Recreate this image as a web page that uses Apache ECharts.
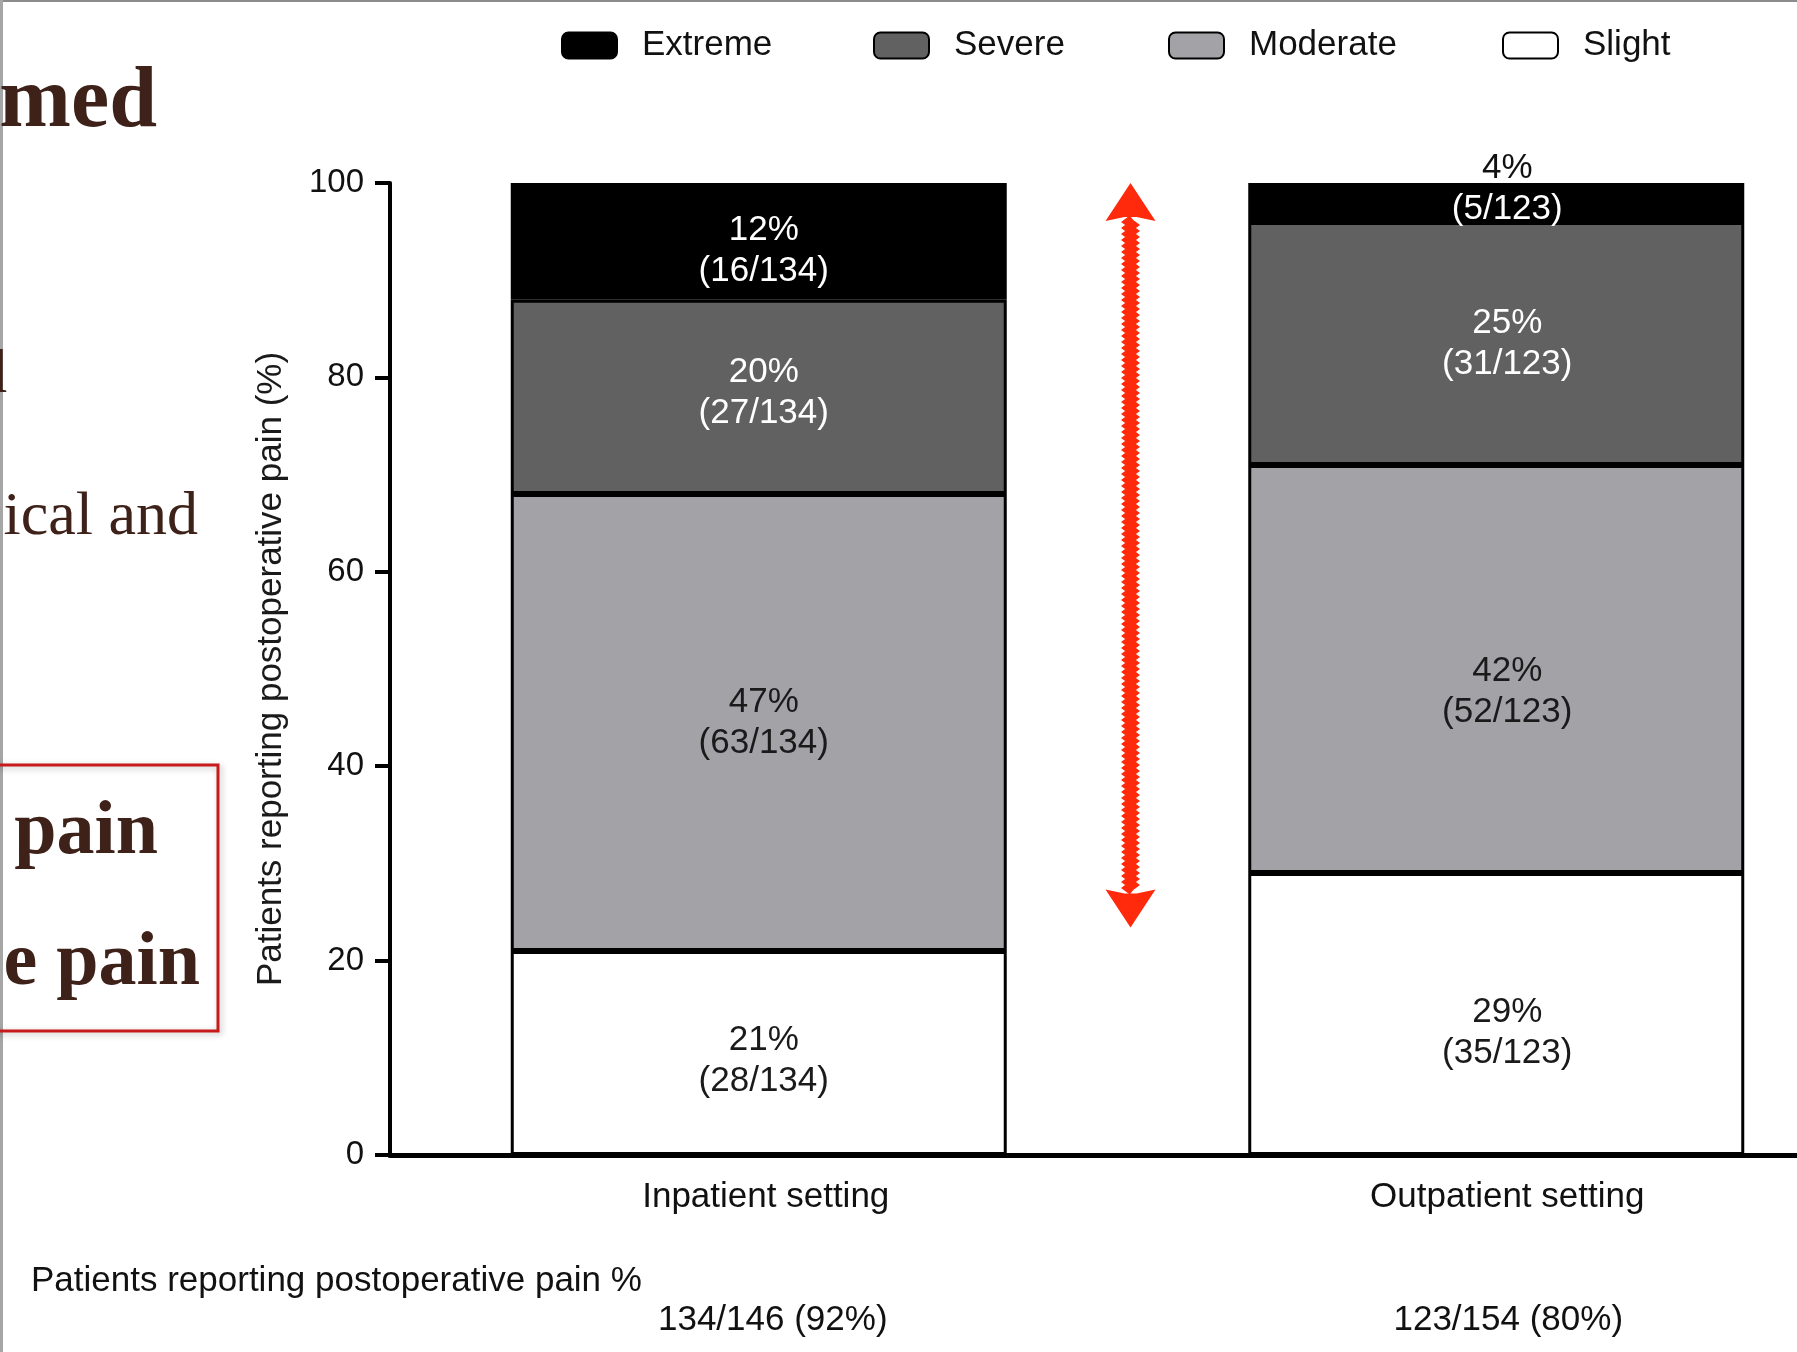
<!DOCTYPE html>
<html>
<head>
<meta charset="utf-8">
<title>Postoperative pain by care setting</title>
<script src="https://cdn.jsdelivr.net/npm/echarts@6/dist/echarts.min.js"></script>
<style>
  html, body { margin: 0; padding: 0; background: #ffffff; }
  #chart { width: 1797px; height: 1352px; }
</style>
</head>
<body>
<div id="chart"></div>
<script>
// Care settings on the x axis
const categories = ['Inpatient setting', 'Outpatient setting'];

// Share of responders per pain level (%), as printed on each segment
const slightPct   = [21, 29];
const moderatePct = [47, 42];
const severePct   = [20, 25];
const extremePct  = [12, 4];

// Patient counts per pain level
const slightN   = [28, 35];
const moderateN = [63, 52];
const severeN   = [27, 31];
const extremeN  = [16, 5];

// Patients reporting pain, cohort size and share reporting pain
const respondents = [134, 123];
const cohortSize  = [146, 154];
const cohortPct   = [92, 80];

// Y axis ticks
const yTicks = [0, 20, 40, 60, 80, 100];

const SANS = "'Liberation Sans', Arial, sans-serif";
const SERIF = "'Liberation Serif', 'Times New Roman', serif";
const FS = 35;

// Label placement tweaks (px) per level, one entry per setting
const labelShift = {
  Slight:   [[5, 8], [11, 19]],
  Moderate: [[5, 0], [11, 23]],
  Severe:   [[5, -4], [11, 0]],
  Extreme:  [[5, 10], [11, -14]]
};
// Horizontal nudge (left padding, px) of the axis category and totals lines
const catPad = [14, 22];
const totPad = [28, 24];

const levels = [
  { name: 'Slight',   pct: slightPct,   n: slightN,   fill: '#ffffff', text: '#1a1a1a' },
  { name: 'Moderate', pct: moderatePct, n: moderateN, fill: '#a3a2a7', text: '#1a1a1a' },
  { name: 'Severe',   pct: severePct,   n: severeN,   fill: '#616161', text: '#ffffff' },
  { name: 'Extreme',  pct: extremePct,  n: extremeN,  fill: '#000000', text: '#ffffff' }
];

const series = levels.map(lv => ({
  name: lv.name,
  type: 'bar',
  stack: 'pain',
  barWidth: 496,
  itemStyle: { color: lv.fill, borderColor: '#000000', borderWidth: 3 },
  label: {
    show: true,
    position: 'inside',
    fontFamily: SANS,
    fontSize: FS,
    lineHeight: 41,
    color: lv.text,
    formatter: p => {
      const i = p.dataIndex;
      const top = lv.pct[i] + '%';
      const bottom = '(' + lv.n[i] + '/' + respondents[i] + ')';
      // thin segments: percentage sits above the bar, count stays inside
      if (lv.pct[i] < 8) return '{above|' + top + '}\n{inside|' + bottom + '}';
      return top + '\n' + bottom;
    },
    rich: {
      above:  { color: '#111111', fontFamily: SANS, fontSize: FS, lineHeight: 41 },
      inside: { color: '#ffffff', fontFamily: SANS, fontSize: FS, lineHeight: 41 }
    }
  },
  emphasis: { disabled: true },
  data: lv.pct.map((v, i) => ({ value: v, label: { offset: labelShift[lv.name][i] } }))
}));

// One legend block per level, laid out left to right
const legendOrder = ['Extreme', 'Severe', 'Moderate', 'Slight'];
const legendLeft = [556, 868, 1163, 1497];
const legends = legendOrder.map((name, k) => ({
  data: [name],
  left: legendLeft[k],
  top: 23,
  icon: 'roundRect',
  itemWidth: 55,
  itemHeight: 26,
  selectedMode: false,
  textStyle: { fontFamily: SANS, fontSize: FS, color: '#111111', padding: [0, 0, 0, 20] }
}));

const richAxis = {};
categories.forEach((c, i) => {
  richAxis['c' + i] = { fontFamily: SANS, fontSize: FS, lineHeight: 41, color: '#111111', padding: [0, 0, 0, catPad[i]] };
  richAxis['t' + i] = { fontFamily: SANS, fontSize: FS, lineHeight: 41, color: '#111111', padding: [0, 0, 0, totPad[i]] };
});

const chart = echarts.init(document.getElementById('chart'), null, { renderer: 'canvas' });

chart.setOption({
  animation: false,
  backgroundColor: '#ffffff',
  legend: legends,
  grid: { left: 390, top: 183, bottom: 197, width: 1475, containLabel: false, outerBoundsMode: 'none' },
  xAxis: {
    type: 'category',
    data: categories,
    boundaryGap: true,
    axisLine: { show: true, lineStyle: { color: '#000000', width: 5 } },
    axisTick: { show: false },
    axisLabel: {
      margin: 22,
      fontFamily: SANS,
      fontSize: FS,
      lineHeight: 41,
      color: '#111111',
      formatter: (val, i) => '{c' + i + '|' + val + '}\n\n\n{t' + i + '|' + respondents[i] + '/' + cohortSize[i] + ' (' + cohortPct[i] + '%)}',
      rich: richAxis
    }
  },
  yAxis: {
    type: 'value',
    min: yTicks[0],
    max: yTicks[yTicks.length - 1],
    interval: yTicks[1] - yTicks[0],
    name: 'Patients reporting postoperative pain (%)',
    nameLocation: 'middle',
    nameGap: 101,
    nameTextStyle: { fontFamily: SANS, fontSize: FS, color: '#1a1a1a' },
    axisLine: { show: true, lineStyle: { color: '#000000', width: 4 } },
    axisTick: { show: true, length: 15, lineStyle: { color: '#000000', width: 4 } },
    axisLabel: { margin: 26, fontFamily: SANS, fontSize: 33, color: '#111111' },
    splitLine: { show: false }
  },
  series: series
});

// Annotation arrow between the two bars, spanning the difference in pain burden
const arrowSpan = [100, 23.4];
const c0 = chart.convertToPixel({ xAxisIndex: 0, yAxisIndex: 0 }, [0, arrowSpan[0]]);
const c1 = chart.convertToPixel({ xAxisIndex: 0, yAxisIndex: 0 }, [1, arrowSpan[1]]);
const ax = (c0[0] + c1[0]) / 2 + 3;
const yTop = c0[1];
const yBot = c1[1];
const head = 40, halfW = 25;

// rough, hand-drawn style shaft
const shaftPts = [];
let flip = 1;
for (let y = yTop + head - 4; y <= yBot - head + 4; y += 3) {
  shaftPts.push([ax + flip * 2, y]);
  flip = -flip;
}

const RED = '#ff2a0c';
const INK = '#3e2219';

chart.setOption({
  graphic: [
    // slide frame edges
    { type: 'rect', left: 0, top: 0, shape: { width: 1797, height: 2 }, style: { fill: '#8c8c8c' }, silent: true },
    { type: 'rect', left: 0, top: 0, shape: { width: 3, height: 1352 }, style: { fill: '#a6a6a6' }, silent: true },

    // slide text at the left margin
    { type: 'text', x: 157, y: 61, style: { text: 'med', font: 'bold 86px ' + SERIF, fill: INK, textAlign: 'right', textVerticalAlign: 'top' }, silent: true },
    { type: 'text', x: 7, y: 345, style: { text: 'd', font: '62px ' + SERIF, fill: INK, textAlign: 'right', textVerticalAlign: 'top' }, silent: true },
    { type: 'text', x: 198, y: 487, style: { text: 'ical and', font: '62px ' + SERIF, fill: INK, textAlign: 'right', textVerticalAlign: 'top' }, silent: true },
    { type: 'rect', shape: { x: -20, y: 765, width: 238, height: 266 }, style: { fill: 'none', stroke: '#c81a1a', lineWidth: 3, shadowBlur: 6, shadowColor: 'rgba(0,0,0,0.25)', shadowOffsetX: 2, shadowOffsetY: 2 }, silent: true },
    { type: 'text', x: 158, y: 795, style: { text: 'pain', font: 'bold 76px ' + SERIF, fill: INK, textAlign: 'right', textVerticalAlign: 'top' }, silent: true },
    { type: 'text', x: 200, y: 926, style: { text: 'e pain', font: 'bold 76px ' + SERIF, fill: INK, textAlign: 'right', textVerticalAlign: 'top' }, silent: true },

    // caption of the totals row
    { type: 'text', x: 31, y: 1281, style: { text: 'Patients reporting postoperative pain %', font: FS + 'px ' + SANS, fill: '#111111', textVerticalAlign: 'middle' }, silent: true },

    // red double-headed arrow
    { type: 'polyline', shape: { points: shaftPts }, style: { stroke: RED, lineWidth: 9, fill: 'none' }, z: 10, silent: true },
    { type: 'polygon', shape: { points: [[ax, yTop], [ax + halfW, yTop + head - 2], [ax + 6, yTop + head - 6], [ax - 6, yTop + head - 6], [ax - halfW, yTop + head - 2]] }, style: { fill: RED }, z: 10, silent: true },
    { type: 'polygon', shape: { points: [[ax, yBot], [ax + halfW, yBot - head + 2], [ax + 6, yBot - head + 6], [ax - 6, yBot - head + 6], [ax - halfW, yBot - head + 2]] }, style: { fill: RED }, z: 10, silent: true }
  ]
});
</script>
</body>
</html>
